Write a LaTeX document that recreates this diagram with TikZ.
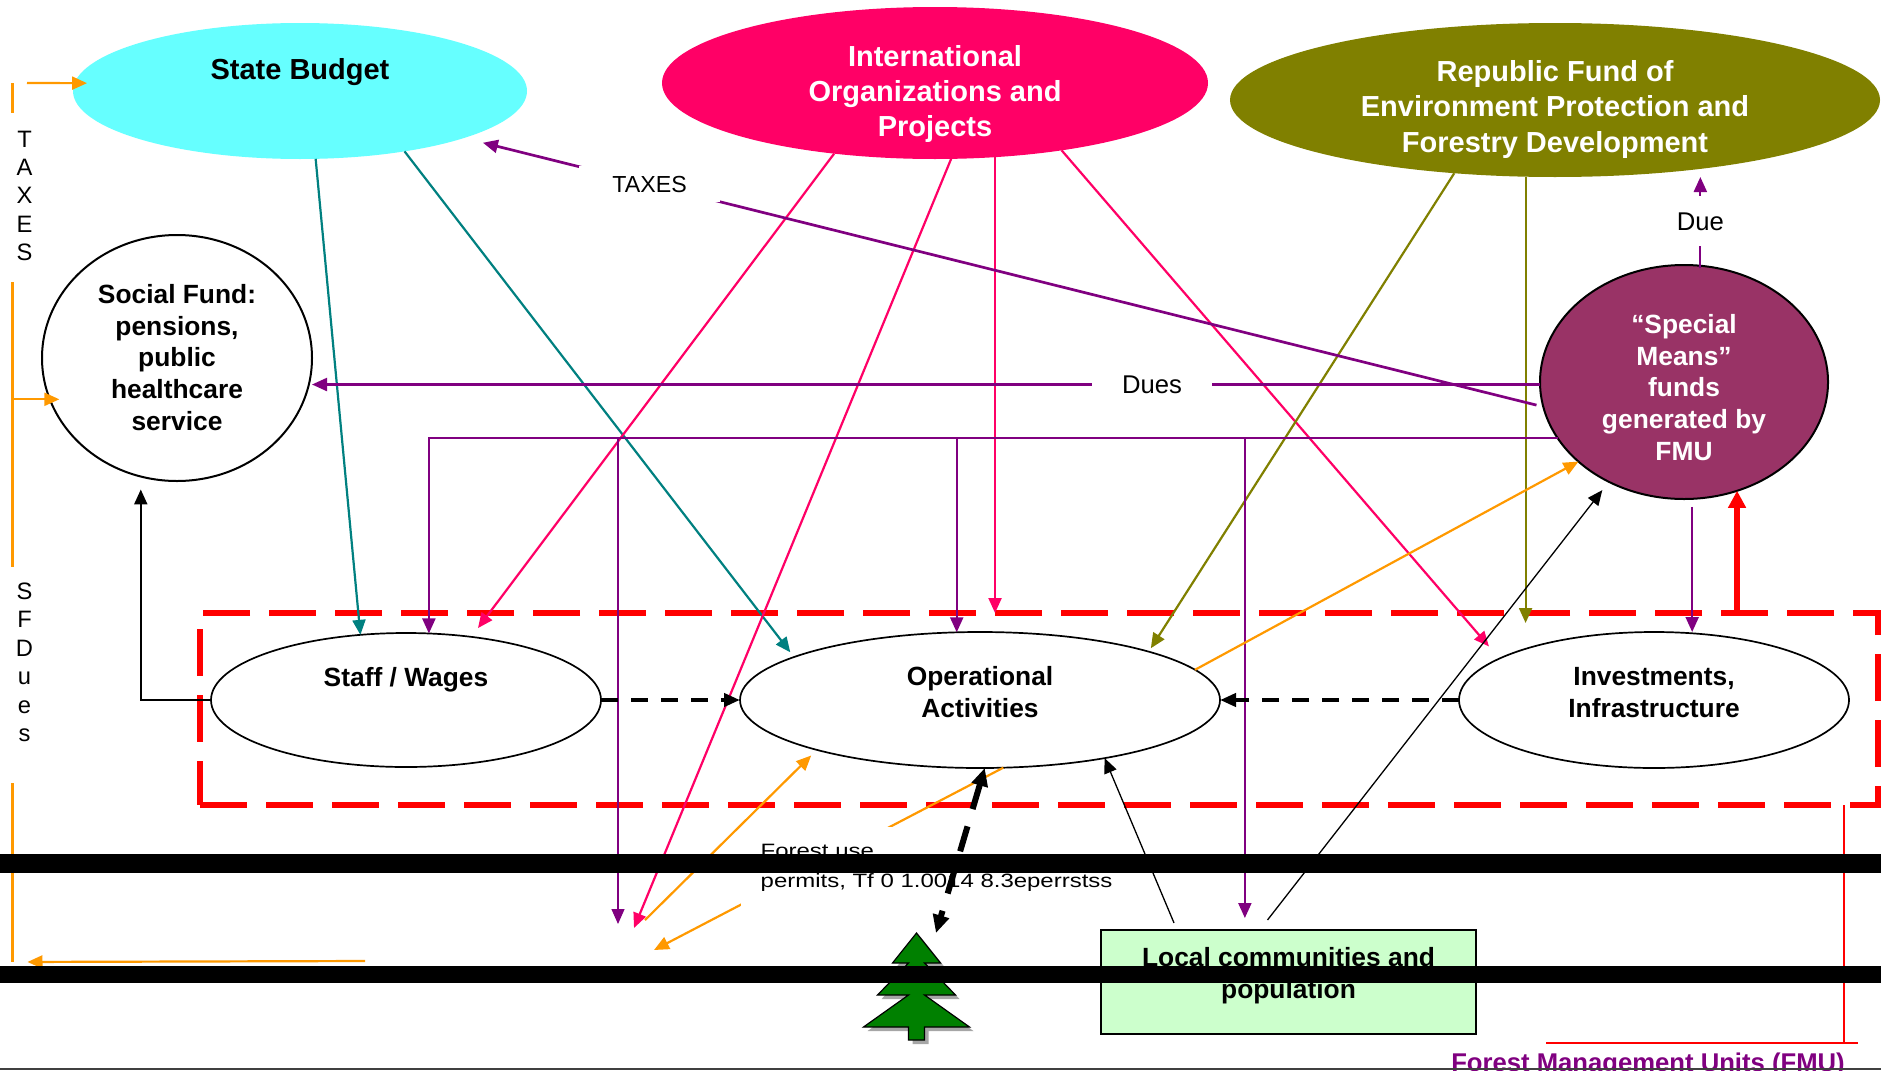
\documentclass[tikz,border=0pt]{standalone}
\usepackage{fontspec}
\setmainfont{Liberation Sans}
\usetikzlibrary{arrows.meta,shapes.geometric}
\definecolor{sbcyan}{HTML}{66FFFF}
\definecolor{iopink}{HTML}{FF0066}
\definecolor{rfolive}{HTML}{808000}
\definecolor{smplum}{HTML}{993366}
\definecolor{lcgreen}{HTML}{CCFFCC}
\definecolor{flowteal}{HTML}{008080}
\definecolor{flowpurple}{HTML}{800080}
\definecolor{floworange}{HTML}{FF9900}
\definecolor{treegreen}{HTML}{008000}
\def\firpath{(0,-53.5) -- (24,-23.5) -- (8,-23.5) -- (39,8.5) -- (8,8.5) -- (53,40.5) -- (8,40.5) -- (8,53.5) -- (-8,53.5) -- (-8,40.5) -- (-53,40.5) -- (-8,8.5) -- (-39,8.5) -- (-8,-23.5) -- (-24,-23.5) -- cycle}
\tikzset{
	blob/.style={ellipse, inner sep=0pt, outer sep=0pt, align=center},
	topfont/.style={font=\bfseries\fontsize{8.25}{10}\selectfont},
	unitfont/.style={font=\bfseries\fontsize{7.5}{9}\selectfont},
	flow/.style={line width=0.22mm, -{Triangle[length=1.5mm,width=1.3mm]}},
	flowlabel/.style={fill=white, text=black, font=\fontsize{7.3}{8.8}\selectfont},
	dashflow/.style={line width=0.45mm, dash pattern=on 1.7mm off 1.3mm, -{Triangle[length=1.6mm,width=1.3mm]}},
	treeflow/.style={line width=0.6mm, dash pattern=on 2.6mm off 1.8mm, {Triangle[length=1.8mm,width=1.6mm]}-{Triangle[length=1.8mm,width=1.6mm]}},
	redup/.style={red, line width=0.55mm, -{Triangle[length=1.7mm,width=1.7mm]}},
	fmubox/.style={draw=red, line width=0.53mm, dash pattern=on 4.7mm off 1.9mm, minimum width=167.8mm, minimum height=19.2mm, inner sep=0pt, outer sep=0pt},
	vlet/.style={font=\fontsize{6.75}{8.1}\selectfont, align=center, inner sep=0pt, anchor=north},
	permit/.style={fill=white, anchor=north west, inner xsep=2mm, inner ysep=1mm, font=\fontsize{5.5}{8.5}\selectfont}
}
\begin{document}
\begin{tikzpicture}[x=0.1mm,y=-0.1mm]
				\useasboundingbox (0,0) rectangle (1881,1070);
				
				\node[fmubox] (fmu) at (1039,709) {};
				
				\node[blob, fill=sbcyan, topfont, text depth=4.5mm, minimum width=45.4mm, minimum height=13.6mm] (budget) at (300,91) {State Budget};
				\node[blob, fill=iopink, text=white, topfont, text height=10.7mm, text depth=0pt, minimum width=54.6mm, minimum height=15.2mm] (intl) at (935,83) {International\\Organizations and\\Projects};
				\node[blob, fill=rfolive, text=white, topfont, text height=10.4mm, text depth=0pt, minimum width=65mm, minimum height=15.4mm] (repfund) at (1555,100) {Republic Fund of\\Environment Protection and\\Forestry Development};
				\node[blob, draw, line width=0.2mm, unitfont, text height=14.4mm, text depth=0pt, minimum width=27mm, minimum height=24.6mm] (social) at (177,358) {Social Fund:\\pensions,\\public\\healthcare\\service};
				\node[blob, draw, line width=0.2mm, fill=smplum, text=white, unitfont, text height=15.6mm, text depth=0pt, minimum width=28.8mm, minimum height=23.4mm] (special) at (1684,382) {“Special\\Means”\\funds\\generated by\\FMU};
				\node[blob, draw, fill=white, line width=0.17mm, unitfont, text depth=4.7mm, minimum width=39mm, minimum height=13.4mm] (staff) at (406,700) {Staff / Wages};
				\node[blob, draw, fill=white, line width=0.17mm, unitfont, text height=3.4mm, text depth=0pt, minimum width=48mm, minimum height=13.6mm] (oper) at (980,700) {Operational\\Activities};
				\node[blob, draw, fill=white, line width=0.17mm, unitfont, text height=3.4mm, text depth=0pt, minimum width=39mm, minimum height=13.6mm] (invest) at (1654,700) {Investments,\\Infrastructure};
				\node[draw, fill=lcgreen, line width=0.17mm, inner sep=0pt, outer sep=0pt, unitfont, align=center, text height=3.2mm, text depth=0pt, minimum width=37.5mm, minimum height=10.4mm] (local) at (1288.5,982) {Local communities and\\population};
				
				\node[minimum width=10.7mm, minimum height=10.7mm, inner sep=0pt, outer sep=0pt] (tree) at (916.5,986.5) {};
				\fill[gray!70, shift={(920.5,990.5)}] \firpath;
				\draw[fill=treegreen, line width=0.12mm, shift={(916.5,986.5)}] \firpath;
				
				\coordinate (otop) at (12.5,83);
				\coordinate (obot) at (12.5,962);
				\coordinate (ofree) at (365,961);
				\coordinate (pinkend) at (634,928);
				\coordinate (purpend) at (618,924);
				\coordinate (orgstart) at (645,920);
				\coordinate (orgend) at (654,950);
				
				\draw[floworange, line width=0.22mm] (otop) -- (12.5,113);
				\draw[floworange, line width=0.22mm] (12.5,282) -- (12.5,566.6);
				\draw[floworange, line width=0.22mm] (12.5,783) -- (obot);
				\draw[flow, floworange, shorten <=1.45mm, shorten >=-1.25mm] (otop) -- (budget.178);
				\draw[flow, floworange, shorten >=-0.95mm] (otop |- social.198.8) -- (social.198.8);
				\draw[flow, floworange, shorten >=1.5mm] (ofree) -- (obot);
				\node[vlet] (taxv) at (24.5,130) {T\\A\\X\\E\\S};
				\node[vlet] (sfdv) at (24.5,582) {S\\F\\D\\u\\e\\s};
				
				\draw[flow, flowteal] (budget.-77.6) -- (staff.125.5);
				\draw[flow, flowteal, shorten >=0.6mm] (budget.-30.2) -- (oper.167.5);
				
				\draw[flow, iopink, shorten >=1.1mm] (intl.-145.4) -- (staff.44);
				\draw[flow, iopink] (intl.-78.1) -- (pinkend);
				\draw[flow, iopink] (intl.-51.7) -- (intl.-51.7 |- fmu.north);
				\draw[flow, iopink, shorten >=1.6mm] (intl.-28.5) -- (invest.165.4);
				
				\draw[flow, rfolive, shorten >=0.4mm] (repfund.-144.8) -- (oper.16.7);
				\draw[flow, rfolive, shorten >=-1mm] (repfund.-111.5) -- (repfund.-111.5 |- fmu.north);
				
				\draw[flow, flowpurple, line width=0.27mm, shorten <=0.7mm, shorten >=1.95mm] (special.190.8) -- node[pos=0.828, flowlabel, font=\fontsize{6.6}{8}\selectfont, inner xsep=3.3mm, inner ysep=1mm] (taxlbl) {TAXES} (budget.-16.2);
				\draw[flow, flowpurple] (special.181.7) -- node[pos=0.316, flowlabel, inner xsep=3mm] (dueslbl) {Dues} (special.181.7 -| social.east);
				\draw[flow, flowpurple, shorten <=-0.25mm] (special.82.2) -- node[flowlabel, minimum height=5mm] (duelbl) {Due} (special.82.2 |- repfund.south);
				\draw[flow, flowpurple] (special.204.5) -| (staff.71.7);
				\draw[flow, flowpurple] (oper.109.5 |- special.204.5) -- (oper.109.5);
				\draw[flow, flowpurple, shorten >=1.2mm] (local.130.6 |- special.204.5) -- (local.130.6);
				\draw[flow, flowpurple, line width=0.13mm] (purpend |- special.204.5) -- (purpend);
				\draw[flow, flowpurple, shorten <=0.8mm] (special.-86.6) -- (special.-86.6 |- invest.north);
				\draw[redup] (special.-64.5 |- fmu.north) -- (special.-64.5);
				
				\draw[flow, floworange] (oper.8.6) -- (special.217.4);
				\draw[flow, floworange] (oper.-71.8) -- (orgend);
				\node[permit] (permits) at (740,826) {\scalebox{1.24}[1]{\begin{tabular}{@{}l@{}}Forest use\\permits, Tf 0 1.0014 8.3eperrstss\end{tabular}}};
				\draw[flow, floworange, shorten >=0.8mm] (orgstart) -- (oper.-163.3);
				
				\draw[flow, line width=0.13mm, shorten <=0.77mm] (local.155.2) -- (oper.-25.8);
				\draw[flow, line width=0.13mm, shorten <=1.27mm, shorten >=1.06mm] (local.119.4) -- (special.-127.2);
				\draw[flow, shorten >=1.3mm] (staff.west) -| (social.-107.4);
				\draw[dashflow] (staff.east) -- (oper.west);
				\draw[dashflow] (invest.west) -- (oper.east);
				\draw[treeflow] (oper.-86.6) -- (tree.70);
				
				\draw[red, line width=0.25mm] (1844,805) -- (1844,1043);
				\draw[red, line width=0.25mm] (1546,1043) -- (1858,1043);
				\node[font=\bfseries\fontsize{7.3}{8.8}\selectfont, text=flowpurple, anchor=base] (fmulbl) at (1648,1071.7) {Forest Management Units (FMU)};
				
				\fill[black] (0,854) rectangle (1881,873);
				\fill[black] (0,965.5) rectangle (1881,983);
				\draw[black!75, line width=0.2mm] (0,1068.5) -- (1881,1068.5);
			\end{tikzpicture}
\end{document}
